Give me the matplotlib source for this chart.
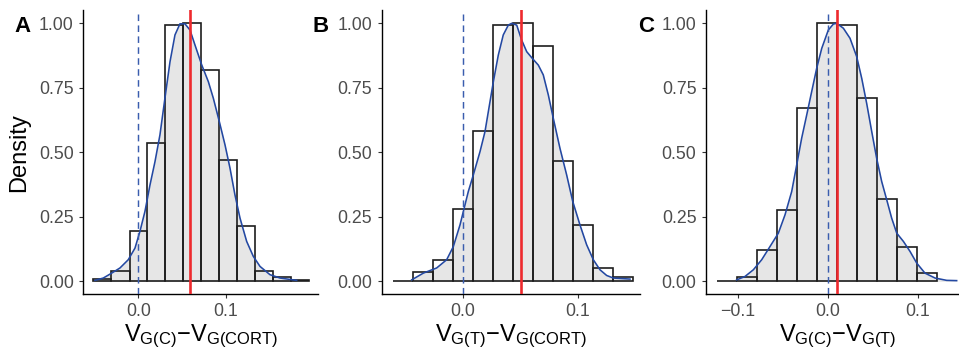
import numpy as np
import matplotlib
matplotlib.use("Agg")
import matplotlib.pyplot as plt

plt.rcParams['font.family'] = ['Liberation Sans', 'DejaVu Sans']
plt.rcParams['mathtext.fontset'] = 'custom'
plt.rcParams['mathtext.rm'] = 'Liberation Sans'
plt.rcParams['mathtext.it'] = 'Liberation Sans:italic'
plt.rcParams['mathtext.bf'] = 'Liberation Sans:bold'

# ---- panel A : V_G(C) - V_G(CORT)
edges_a = [-0.0515, -0.0309, -0.0100, 0.0103, 0.0309, 0.0515, 0.0722, 0.0928,
           0.1134, 0.1340, 0.1547, 0.1752, 0.1957]
heights_a = [0.009, 0.042, 0.194, 0.538, 0.992, 1.000, 0.821, 0.469, 0.213, 0.042, 0.016, 0.004]
curve_x_a = [-0.0496, -0.0401, -0.0305, -0.0210, -0.0115, -0.0038, 0.0019, 0.0076, 0.0134,
             0.0191, 0.0248, 0.0305, 0.0363, 0.0420, 0.0477, 0.0534, 0.0592, 0.0649,
             0.0726, 0.0802, 0.0859, 0.0928, 0.0993, 0.1050, 0.1107, 0.1165, 0.1241,
             0.1317, 0.1394, 0.1508, 0.1623, 0.1814]
curve_y_a = [0.004, 0.013, 0.032, 0.052, 0.084, 0.129, 0.194, 0.271, 0.374,
             0.464, 0.568, 0.710, 0.851, 0.955, 0.998, 0.998, 0.974, 0.916,
             0.839, 0.774, 0.710, 0.619, 0.529, 0.439, 0.335, 0.245, 0.155,
             0.097, 0.058, 0.026, 0.013, 0.004]
mean_a = 0.059

# ---- panel B : V_G(T) - V_G(CORT)
edges_b = [-0.0609, -0.0435, -0.0261, -0.0087, 0.0087, 0.0261, 0.0435, 0.0609,
           0.0783, 0.0957, 0.1130, 0.1304, 0.1478]
heights_b = [0.003, 0.036, 0.081, 0.281, 0.583, 0.993, 1.000, 0.912, 0.467, 0.219, 0.052, 0.016]
curve_x_b = [-0.0443, -0.0342, -0.0226, -0.0139, -0.0081, -0.0023, 0.0006, 0.0049, 0.0093,
             0.0151, 0.0194, 0.0238, 0.0267, 0.0310, 0.0353, 0.0397, 0.0426, 0.0470,
             0.0513, 0.0557, 0.0606, 0.0658, 0.0701, 0.0745, 0.0788, 0.0846, 0.0904,
             0.0957, 0.1020, 0.1078, 0.1136, 0.1194, 0.1252, 0.1310, 0.1455]
curve_y_b = [0.006, 0.032, 0.052, 0.084, 0.135, 0.219, 0.271, 0.348, 0.413,
             0.503, 0.580, 0.697, 0.774, 0.877, 0.955, 0.993, 1.000, 0.993,
             0.935, 0.890, 0.864, 0.838, 0.800, 0.722, 0.632, 0.516, 0.413,
             0.310, 0.219, 0.142, 0.084, 0.045, 0.023, 0.013, 0.009]
mean_b = 0.0507

# ---- panel C : V_G(C) - V_G(T)
edges_c = [-0.1226, -0.1004, -0.0781, -0.0559, -0.0337, -0.0115, 0.0107, 0.0330,
           0.0552, 0.0774, 0.0996, 0.1219]
heights_c = [0.003, 0.018, 0.120, 0.277, 0.673, 1.000, 0.995, 0.710, 0.319, 0.135, 0.031]
curve_x_c = [-0.1011, -0.0919, -0.0826, -0.0733, -0.0641, -0.0548, -0.0474, -0.0400,
             -0.0344, -0.0289, -0.0233, -0.0178, -0.0122, -0.0066, 0.0007, 0.0063,
             0.0100, 0.0174, 0.0248, 0.0322, 0.0378, 0.0433, 0.0489, 0.0544, 0.0600,
             0.0656, 0.0711, 0.0767, 0.0841, 0.0915, 0.0989, 0.1081, 0.1193, 0.1322, 0.1433]
curve_y_c = [0.006, 0.019, 0.045, 0.084, 0.135, 0.187, 0.258, 0.348,
             0.452, 0.555, 0.645, 0.735, 0.826, 0.903, 0.974, 0.997,
             1.000, 0.981, 0.942, 0.871, 0.787, 0.690, 0.581, 0.477, 0.387,
             0.316, 0.245, 0.187, 0.155, 0.116, 0.071, 0.032, 0.013, 0.004, 0.003]
mean_c = 0.010

panels = [
    ('A', edges_a, heights_a, curve_x_a, curve_y_a, mean_a, (-0.063, 0.2058),
     [0.0, 0.1], ['0.0', '0.1'], r'$\mathrm{V_{G(C)}{-}V_{G(CORT)}}$'),
    ('B', edges_b, heights_b, curve_x_b, curve_y_b, mean_b, (-0.0704, 0.1542),
     [0.0, 0.1], ['0.0', '0.1'], r'$\mathrm{V_{G(T)}{-}V_{G(CORT)}}$'),
    ('C', edges_c, heights_c, curve_x_c, curve_y_c, mean_c, (-0.1352, 0.158),
     [-0.1, 0.0, 0.1], ['\u22120.1', '0.0', '0.1'], r'$\mathrm{V_{G(C)}{-}V_{G(T)}}$'),
]

W, H = 959, 351
fig = plt.figure(figsize=(W / 100, H / 100), dpi=100)

# axes boxes in pixels: left, right
boxes = [(83.3, 318.0), (381.7, 640.0), (706.0, 969.9)]
letter_x = [14, 313, 638]
bot_px, top_px = 294.3, 10.4

for i, (lab, edges, heights, cx, cy, mu, xlim, xt, xtl, xlab) in enumerate(panels):
    l, r = boxes[i]
    ax = fig.add_axes([l / W, 1 - bot_px / H, (r - l) / W, (bot_px - top_px) / H])
    edges = np.array(edges)
    ax.fill_between(cx, 0, cy, color='#E6E6E6', lw=0, zorder=1)
    ax.bar(edges[:-1], heights, width=np.diff(edges), align='edge',
           facecolor='none', edgecolor='#1E1E1E', linewidth=1.2, zorder=2)
    ax.plot(cx, cy, color='#2348A2', lw=1.15, zorder=3)
    ax.axvline(0, color='#3A5DAE', lw=1.05, dashes=(4.5, 3), zorder=4)
    ax.axvline(mu, color='#EE2A2E', lw=1.9, zorder=4)

    ax.set_xlim(*xlim)
    ax.set_ylim(-0.05, 1.05)
    ax.set_xticks(xt)
    ax.set_xticklabels(xtl)
    ax.set_yticks([0, 0.25, 0.5, 0.75, 1.0])
    ax.set_yticklabels(['0.00', '0.25', '0.50', '0.75', '1.00'])
    for s in ['top', 'right']:
        ax.spines[s].set_visible(False)
    for s in ['left', 'bottom']:
        ax.spines[s].set_linewidth(1.0)
        ax.spines[s].set_color('black')
    ax.tick_params(axis='both', length=2.9, width=0.8, color='#333333',
                   labelcolor='#4D4D4D', labelsize=12.8)
    ax.tick_params(axis='y', pad=4)
    ax.tick_params(axis='x', pad=3.5)
    ax.set_xlabel(xlab, fontsize=17, labelpad=2)
    if i == 0:
        ax.set_ylabel('Density', fontsize=17, labelpad=6)
    fig.text(letter_x[i] / W, 1 - 26 / H, lab, fontsize=16, fontweight='bold',
             ha='left', va='center')

fig.savefig('out.png', dpi=100)
